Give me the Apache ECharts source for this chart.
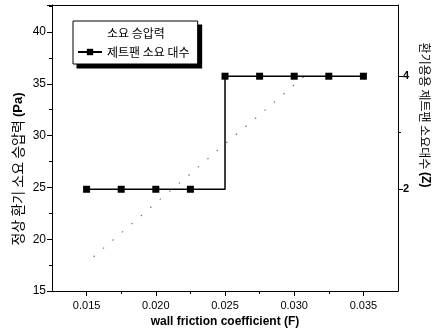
<!DOCTYPE html>
<html>
<head>
<meta charset="utf-8">
<script src="https://cdn.jsdelivr.net/npm/echarts@6/dist/echarts.min.js"></script>
<style>
  html, body { margin: 0; padding: 0; background: #fff; }
  #chart { width: 437px; height: 335px; }
</style>
</head>
<body>
<div id="chart"></div>
<script>
// Wall friction coefficient values where the jet-fan count was evaluated
const frictionF = [0.015, 0.0175, 0.02, 0.0225, 0.025, 0.0275, 0.03, 0.0325, 0.035];
// Required number of jet fans (right axis)
const jetFanCount = [2, 2, 2, 2, 4, 4, 4, 4, 4];
// Required pressure rise for normal ventilation (left axis, Pa)
const pressureF = [0.0155, 0.0175, 0.02, 0.0225, 0.025, 0.0275, 0.03, 0.0308];
const pressurePa = [18.3, 20.6, 23.5, 26.3, 29.2, 32.0, 34.9, 35.8];
// Tick positions
const xMajorTicks = [0.015, 0.02, 0.025, 0.03, 0.035];
const xMinorTicks = [0.0175, 0.0225, 0.0275, 0.0325];
const zMajorTicks = [2, 4];
const zMinorTicks = [3];

const seriesNames = ['소요 승압력', '제트팬 소요 대수'];
const latin = 'Liberation Sans, Arial, sans-serif';
const kr = 'Noto Sans CJK KR, sans-serif';

const chart = echarts.init(document.getElementById('chart'), null, { renderer: 'canvas' });

const xRange = { min: 0.0125, max: 0.0375 };
const zRange = { min: 0.2, max: 5.26 };

chart.setOption({
  animation: false,
  backgroundColor: '#fff',
  grid: { left: 52, right: 39, top: 5, bottom: 44 },
  legend: {
    orient: 'vertical',
    left: 73,
    top: 21,
    z: 10,
    data: [
      // the dotted pressure curve has no visible key mark
      { name: seriesNames[0], icon: 'rect', itemStyle: { color: 'rgba(0,0,0,0)', borderWidth: 0 } },
      { name: seriesNames[1] }
    ],
    itemWidth: 24,
    itemHeight: 8,
    itemGap: 7,
    padding: [6, 8, 6, 4],
    backgroundColor: '#fff',
    borderColor: '#000',
    borderWidth: 1,
    textStyle: { fontFamily: kr, fontSize: 12, color: '#000' }
  },
  xAxis: [
    {
      type: 'value',
      ...xRange,
      position: 'bottom',
      name: 'wall friction coefficient (F)',
      nameLocation: 'middle',
      nameGap: 23,
      nameTextStyle: { fontFamily: latin, fontWeight: 'bold', fontSize: 12, color: '#000' },
      axisLine: { show: true, lineStyle: { color: '#000', width: 1 } },
      axisTick: { show: true, inside: false, length: 5, customValues: xMajorTicks, lineStyle: { color: '#000' } },
      axisLabel: {
        customValues: xMajorTicks,
        formatter: v => v.toFixed(3),
        fontFamily: latin, fontSize: 11, color: '#000', margin: 9
      },
      splitLine: { show: false }
    },
    {
      // minor ticks between labelled friction values
      type: 'value',
      ...xRange,
      position: 'bottom',
      axisLine: { show: false },
      axisTick: { show: true, inside: false, length: 3, customValues: xMinorTicks, lineStyle: { color: '#000' } },
      axisLabel: { show: false },
      splitLine: { show: false }
    },
    {
      // top frame line
      type: 'value',
      ...xRange,
      position: 'top',
      axisLine: { show: true, lineStyle: { color: '#000', width: 1 } },
      axisTick: { show: false },
      axisLabel: { show: false },
      splitLine: { show: false }
    }
  ],
  yAxis: [
    {
      type: 'value',
      min: 15,
      max: 42.6,
      interval: 5,
      position: 'left',
      axisLine: { show: true, lineStyle: { color: '#000', width: 1 } },
      axisTick: { show: true, inside: false, length: 5, lineStyle: { color: '#000' } },
      minorTick: { show: true, splitNumber: 2, length: 3, lineStyle: { color: '#000' } },
      axisLabel: { showMaxLabel: false, fontFamily: latin, fontSize: 12, color: '#000', margin: 6 },
      splitLine: { show: false }
    },
    {
      type: 'value',
      ...zRange,
      position: 'right',
      axisLine: { show: true, lineStyle: { color: '#000', width: 1 } },
      axisTick: { show: true, inside: false, length: 5, customValues: zMajorTicks, lineStyle: { color: '#000' } },
      axisLabel: { customValues: zMajorTicks, fontFamily: latin, fontWeight: 'bold', fontSize: 11, color: '#000', margin: 5 },
      splitLine: { show: false }
    },
    {
      type: 'value',
      ...zRange,
      position: 'right',
      axisLine: { show: false },
      axisTick: { show: true, inside: false, length: 3, customValues: zMinorTicks, lineStyle: { color: '#000' } },
      axisLabel: { show: false },
      splitLine: { show: false }
    }
  ],
  graphic: [
    {
      type: 'text',
      x: 18, y: 169,
      rotation: Math.PI / 2,
      style: {
        text: '{n|정상 환기 소요 승압력 }{b|(Pa)}',
        align: 'center',
        verticalAlign: 'middle',
        rich: {
          n: { fontFamily: kr, fontSize: 14, fill: '#000' },
          b: { fontFamily: latin, fontSize: 13, fontWeight: 'bold', fill: '#000' }
        }
      }
    },
    {
      type: 'text',
      x: 425, y: 115,
      rotation: -Math.PI / 2,
      style: {
        text: '{n|환기용용 제트팬 소요대수 }{b|(Z)}',
        align: 'center',
        verticalAlign: 'middle',
        rich: {
          n: { fontFamily: kr, fontSize: 12, fill: '#000' },
          b: { fontFamily: latin, fontSize: 12, fontWeight: 'bold', fill: '#000' }
        }
      }
    }
  ],
  series: [
    {
      name: seriesNames[0],
      type: 'line',
      xAxisIndex: 0,
      yAxisIndex: 0,
      data: pressureF.map((f, i) => [f, pressurePa[i]]),
      symbol: 'none',
      lineStyle: { color: '#777', width: 1.2, type: [1.5, 11] },
      itemStyle: { color: '#777' },
      z: 2
    },
    {
      name: seriesNames[1],
      type: 'line',
      xAxisIndex: 0,
      yAxisIndex: 1,
      step: 'end',
      data: frictionF.map((f, i) => [f, jetFanCount[i]]),
      symbol: 'rect',
      symbolSize: 7,
      lineStyle: { color: '#000', width: 1.5 },
      itemStyle: { color: '#000' },
      z: 3
    }
  ]
});

// Solid drop shadow behind the legend box, sized from the laid-out legend
(function addLegendShadow() {
  try {
    const legendModel = chart.getModel().getComponent('legend');
    const view = chart.getViewOfComponentModel(legendModel);
    const g = view.group;
    const r = g.getBoundingRect();
    const off = 4;
    chart.setOption({
      graphic: [
        {}, {},
        {
          type: 'rect',
          z: 9,
          silent: true,
          shape: { x: g.x + r.x + off, y: g.y + r.y + off, width: r.width, height: r.height },
          style: { fill: '#000' }
        }
      ]
    });
  } catch (e) {
    console.error(e);
  }
})();
</script>
</body>
</html>
